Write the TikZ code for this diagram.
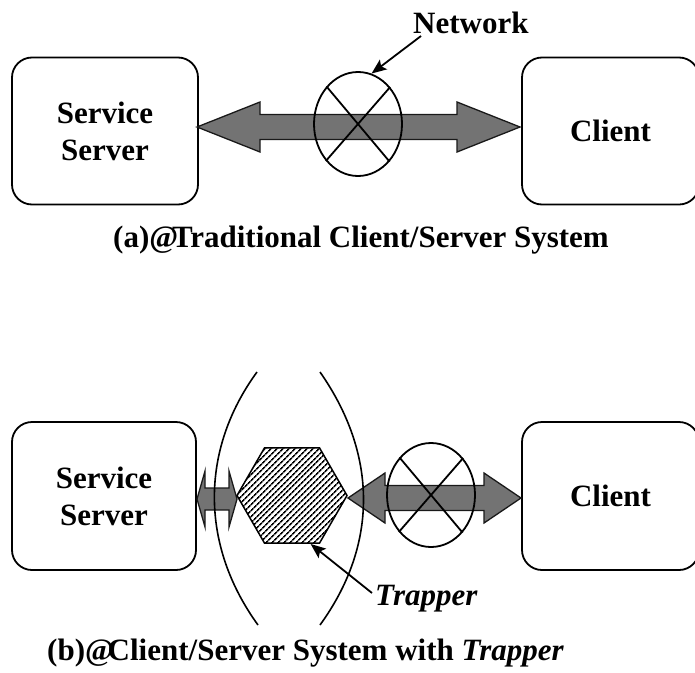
\documentclass[tikz,border=0pt]{standalone}
\usepackage{fontspec}
\setmainfont{Liberation Serif}
\usetikzlibrary{shapes.geometric,arrows.meta,calc,patterns.meta}
\newcommand\fatarrow[5]{%
  \path let \p1=(#1), \p2=(#2) in
   [arrowfill] (\x1,\y1) -- (\x1+#5,\y1+#4) -- (\x1+#5,\y1+#3) -- (\x2-#5,\y1+#3)
   -- (\x2-#5,\y1+#4) -- (\x2,\y1) -- (\x2-#5,\y1-#4) -- (\x2-#5,\y1-#3)
   -- (\x1+#5,\y1-#3) -- (\x1+#5,\y1-#4) -- cycle;}
\begin{document}
\begin{tikzpicture}[x=1pt,y=-1pt,
  box/.style={draw, line width=1.8pt, rounded corners=20pt, align=center, inner sep=0pt,
              font=\bfseries\fontsize{31}{37}\selectfont},
  net/.style={draw, ellipse, line width=1.8pt, inner sep=0pt, minimum width=88pt, minimum height=104pt},
  xline/.style={line width=1.8pt},
  arrowfill/.style={fill=black!55, draw=black!90, line width=1.3pt, line join=miter},
  bound/.style={line width=1.6pt},
  lbl/.style={font=\bfseries\fontsize{31}{37}\selectfont, inner sep=0pt},
  pointer/.style={line width=1.8pt, -{Stealth[length=15pt,width=12pt,inset=3pt]}},
  hex/.style={draw, regular polygon, regular polygon sides=6, minimum size=110pt, inner sep=0pt,
              line width=1.5pt, pattern={Lines[angle=45,distance=4pt,line width=1.7pt]}}
]
\useasboundingbox (0,0) rectangle (695,672);
% boxes
\node[box, minimum width=186pt, minimum height=147pt] (ss1) at (105,131) {Service\\Server};
\node[box, minimum width=177pt, minimum height=147pt] (cl1) at (610.5,131) {Client};
\node[box, minimum width=184pt, minimum height=148pt] (ss2) at (104,496) {Service\\Server};
\node[box, minimum width=177pt, minimum height=148pt] (cl2) at (610.5,496) {Client};
% arrows
\coordinate (a1s) at (197,127);
\coordinate (a1e) at (520,127);
\fatarrow{a1s}{a1e}{12.5}{25}{63}
\coordinate (a2s) at (197,499);
\coordinate (a2e) at (237,499);
\fatarrow{a2s}{a2e}{11}{28}{8}
\coordinate (a3s) at (348,498);
\coordinate (a3e) at (521,498);
\fatarrow{a3s}{a3e}{12.5}{25}{37}
% network (a)
\node[net] (n1) at (358,124) {};
\draw[xline] (n1.49.8) -- (n1.229.8);
\draw[xline] (n1.130.2) -- (n1.310.2);
% network (b)
\node[net] (n2) at (431,495) {};
\draw[xline] (n2.49.8) -- (n2.229.8);
\draw[xline] (n2.130.2) -- (n2.310.2);
% trapper
\node[hex] (trap) at (292,495.5) {};
\draw[bound] (257,372) .. controls (200,450) and (200,545) .. (258,625);
\draw[bound] (320,372) .. controls (378,455) and (378,545) .. (320,625);
% labels
\node[lbl, anchor=base west] (netlbl) at (413,33) {Network};
\coordinate (netTail) at (421,36);
\draw[pointer] (netTail) -- (n1.75);
\node[lbl, font=\bfseries\itshape\fontsize{31}{37}\selectfont, anchor=base west] (traplbl) at (375,605) {Trapper};
\coordinate (trapTail) at (372,593);
\draw[pointer] (trapTail) -- (trap.-69);
% captions
\node[lbl, anchor=base west] (capa) at (113,247) {(a)@\kern-0.2em Traditional Client/Server System};
\node[lbl, anchor=base west] (capb) at (47,660) {(b)@\kern-0.2em Client/Server System with \textit{Trapper}};
\end{tikzpicture}
\end{document}
